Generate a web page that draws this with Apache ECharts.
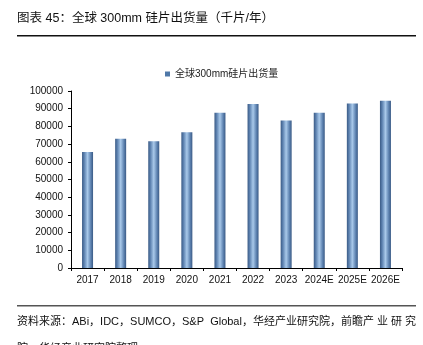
<!DOCTYPE html>
<html><head><meta charset="utf-8">
<script src="https://cdn.jsdelivr.net/npm/echarts@6/dist/echarts.min.js"></script>
<style>html,body{margin:0;padding:0;background:#fff}#c{width:423px;height:345px}</style>
</head><body><div id="c"></div>
<script>
const categories = ['2017','2018','2019','2020','2021','2022','2023','2024E','2025E','2026E'];
const shipments = [65500, 73000, 71600, 76700, 87700, 92700, 83400, 87700, 93000, 94500];
const seriesName = '全球300mm硅片出货量';
const yTicks = {min: 0, max: 100000, interval: 10000};

const FONT = 'Liberation Sans, Arial, "Noto Sans CJK SC", sans-serif';
const chart = echarts.init(document.getElementById('c'));
const grad = new echarts.graphic.LinearGradient(0, 0, 1, 0, [
  {offset: 0, color: '#3a5a85'},
  {offset: 0.2, color: '#5d82b0'},
  {offset: 0.5, color: '#a9c9ea'},
  {offset: 0.8, color: '#5d82b0'},
  {offset: 1, color: '#3a5a85'}
]);
chart.setOption({
  animation: false,
  textStyle: {fontFamily: FONT},
  legend: {
    top: 64, left: 160,
    itemWidth: 5, itemHeight: 5, itemGap: 3,
    textStyle: {fontSize: 10, color: '#222', fontFamily: FONT},
    data: [{name: seriesName, icon: 'rect', itemStyle: {color: '#4f78a8'}}]
  },
  grid: {left: 71, right: 21, top: 91, bottom: 77},
  xAxis: {
    type: 'category', data: categories,
    axisLine: {lineStyle: {color: '#000', width: 1}},
    axisTick: {show: true, length: 3, lineStyle: {color: '#000'}},
    axisLabel: {color: '#111', fontSize: 10, margin: 7, interval: 0, fontFamily: FONT}
  },
  yAxis: {
    type: 'value', min: yTicks.min, max: yTicks.max, interval: yTicks.interval,
    axisLine: {show: true, lineStyle: {color: '#000', width: 1}},
    axisTick: {show: true, length: 3, lineStyle: {color: '#000'}},
    splitLine: {show: false},
    axisLabel: {color: '#111', fontSize: 10, margin: 8, fontFamily: FONT, formatter: v => String(v)}
  },
  series: [{
    name: seriesName, type: 'bar', data: shipments, barWidth: 11,
    itemStyle: {color: grad}
  }],
  graphic: [
    {type: 'text', left: 17, top: 12, style: {text: '图表 45：全球 300mm 硅片出货量（千片/年）', fontSize: 12.5, fill: '#111', fontFamily: FONT}},
    {type: 'rect', shape: {x: 17, y: 35, width: 399, height: 1.5}, style: {fill: '#111'}},
    {type: 'rect', shape: {x: 17, y: 305, width: 399, height: 1.5}, style: {fill: '#555'}},
    {type: 'text', left: 17, top: 316, style: {text: '资料来源：ABi，IDC，SUMCO，S&P  Global，华经产业研究院，前瞻产 业 研 究', fontSize: 11, fill: '#111', fontFamily: FONT}},
    {type: 'text', left: 17, top: 343, style: {text: '院，华经产业研究院整理', fontSize: 11, fill: '#111', fontFamily: FONT}}
  ]
});
</script></body></html>
